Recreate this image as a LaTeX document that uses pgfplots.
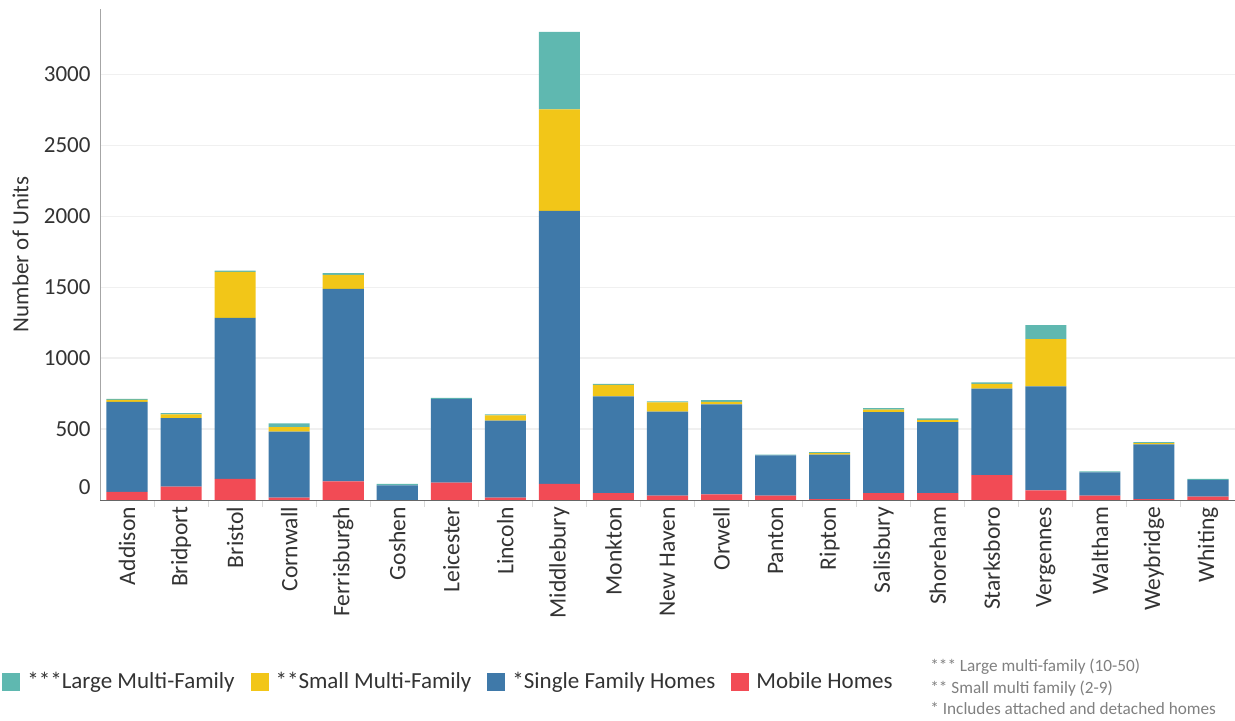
\documentclass[border=0pt]{standalone}
\usepackage{fontspec}
\setmainfont{Carlito}
\usepackage{pgfplots}
\usepackage{pgfplotstable}
\pgfplotsset{compat=1.18}

\definecolor{cteal}{HTML}{5FB8B0}
\definecolor{cyellow}{HTML}{F2C618}
\definecolor{cblue}{HTML}{3F79A9}
\definecolor{cred}{HTML}{F24B55}
\definecolor{ctext}{HTML}{333333}
\definecolor{cnote}{HTML}{808080}

% housing units by town: mobile, single family, small multi, large multi
\pgfplotstableread{
x  red  blue  yellow  teal
0  58   634   14      7
1  94   483   26      10
2  148  1136  324     9
3  16   465   33      26
4  131  1357  99      12
5  0    103   0       10
6  122  591   0       7
7  16   543   37      7
8  113  1924  716     545
9  49   681   82      7
10 30   592   66      7
11 40   634   18      12
12 30   285   0       4
13 7    312   12      7
14 49   571   16      12
15 49   500   14      12
16 176  608   35      10
17 68   733   333     98
18 30   165   0       7
19 7    385   9       7
20 23   118   0       7
}\units

\begin{document}
\begin{tikzpicture}
\begin{axis}[
  name=main,
  scale only axis,
  width=567.5pt, height=245.5pt,
  ybar stacked, bar width=0.76,
  xmin=-0.5, xmax=20.5,
  ymin=0, ymax=3460,
  axis lines*=left,
  x axis line style={color=black!60},
  y axis line style={color=black!35},
  tick align=outside,
  major tick length=0pt,
  minor tick length=3.5pt,
  minor x tick num=1,
  minor x tick style={color=black!15, line width=0.5pt},
  xtick={0,...,20},
  xticklabels={Addison,Bridport,Bristol,Cornwall,Ferrisburgh,Goshen,Leicester,Lincoln,Middlebury,Monkton,New Haven,Orwell,Panton,Ripton,Salisbury,Shoreham,Starksboro,Vergennes,Waltham,Weybridge,Whiting},
  xticklabel style={rotate=90, anchor=east, font=\fontsize{11.8}{13}\selectfont, text=ctext},
  ytick={500,1000,...,3000},
  extra y ticks={0},
  extra y tick style={grid=none, yticklabel style={yshift=6.5pt}},
  yticklabel style={font=\fontsize{11.5}{13}\selectfont, text=ctext, xshift=-1.2pt},
  /pgf/number format/assume math mode=true,
  /pgf/number format/1000 sep={},
  ymajorgrids,
  major grid style={color=black!6, line width=0.6pt},
  ylabel={Number of Units},
  ylabel style={at={(axis description cs:0,0.5)}, anchor=center, yshift=39.75pt, font=\fontsize{11.5}{13}\selectfont, text=ctext},
  legend image code/.code={\fill[#1] (0pt,-4.5pt) rectangle (9pt,4.5pt); \path (10.5pt,0pt);},
  legend style={
    at={(axis description cs:0,0)}, anchor=west,
    xshift=-49pt, yshift=-91pt,
    draw=none, fill=none, inner sep=0pt,
    legend columns=4,
    font=\fontsize{11.5}{13}\selectfont, text=ctext,
    /tikz/every even column/.append style={column sep=6pt},
  },
  legend cell align=left,
]
\addlegendimage{fill=cteal, draw=none}
\addlegendentry{***Large Multi-Family}
\addlegendimage{fill=cyellow, draw=none}
\addlegendentry{**Small Multi-Family}
\addlegendimage{fill=cblue, draw=none}
\addlegendentry{*Single Family Homes}
\addlegendimage{fill=cred, draw=none}
\addlegendentry{Mobile Homes}

\addplot[fill=cred, draw=none, forget plot] table[x=x, y=red] {\units};
\addplot[fill=cblue, draw=none, forget plot] table[x=x, y=blue] {\units};
\addplot[fill=cyellow, draw=none, forget plot] table[x=x, y=yellow] {\units};
\addplot[fill=cteal, draw=none, forget plot] table[x=x, y=teal] {\units};
\end{axis}

\node[anchor=north west, align=left, inner sep=0pt, text=cnote,
      font=\fontsize{8.6}{10.75}\selectfont]
  at ([shift={(415pt,-79.5pt)}]main.south west)
  {*** Large multi-family (10-50)\\** Small multi family (2-9)\\* Includes attached and detached homes};

\pgfresetboundingbox
\path ([shift={(-50pt,-110.5pt)}]main.south west) rectangle ++(617.5pt,360.5pt);
\end{tikzpicture}
\end{document}
